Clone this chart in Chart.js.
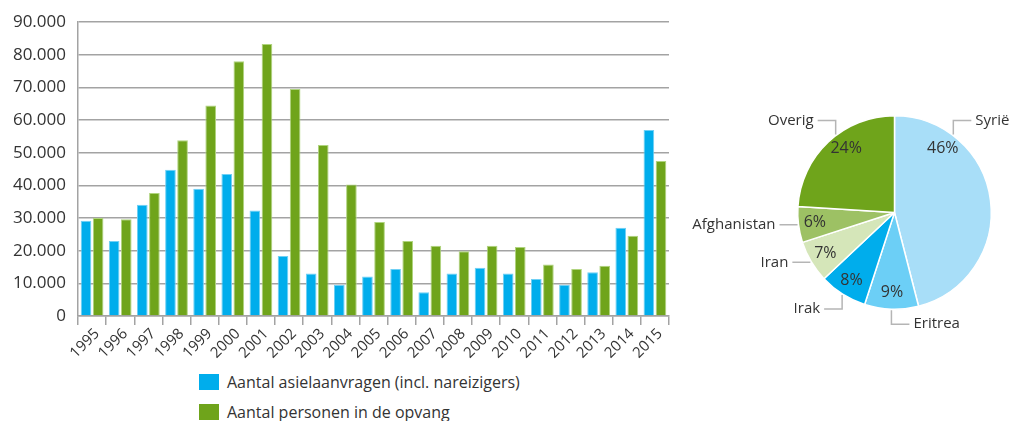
<!DOCTYPE html>
<html>
<head>
<meta charset="utf-8">
<script src="https://cdn.jsdelivr.net/npm/chart.js@4"></script>
<style>
  body { margin: 0; background: #fff; font-family: "Open Sans", sans-serif; color: #333; }
  #wrap { position: relative; width: 1017px; height: 421px; overflow: hidden; }
  #barBox { position: absolute; left: 0; top: 0; width: 690px; height: 365px; }
  #pieBox { position: absolute; left: 680px; top: 0; width: 337px; height: 421px; }
  #legend { position: absolute; left: 199px; top: 367px; font-size: 16px; }
  .item { display: flex; align-items: center; height: 30px; }
  .sw { width: 20px; height: 16px; margin-right: 8px; }
</style>
</head>
<body>
<div id="wrap">
  <div id="barBox"><canvas id="bars"></canvas></div>
  <div id="pieBox"><canvas id="pie"></canvas></div>
  <div id="legend"></div>
</div>
<script>
const years = ["1995","1996","1997","1998","1999","2000","2001","2002","2003","2004","2005",
  "2006","2007","2008","2009","2010","2011","2012","2013","2014","2015"];
const asylumRequests = [29200, 23000, 34100, 44800, 39000, 43500, 32300, 18400, 13000, 9600, 12100,
  14400, 7300, 13000, 14800, 13000, 11300, 9600, 13400, 27000, 57000];
const inReception = [30000, 29600, 37700, 53800, 64500, 78000, 83300, 69500, 52400, 40300, 28800,
  23000, 21500, 19800, 21500, 21100, 15800, 14400, 15400, 24600, 47500];
const seriesNames = ["Aantal asielaanvragen (incl. nareizigers)", "Aantal personen in de opvang"];

const countries = ["Syrië", "Eritrea", "Irak", "Iran", "Afghanistan", "Overig"];
const shares = [46, 9, 8, 7, 6, 24];

const BLUE = "#00adec";
const GREEN = "#6fa41b";
const GRID = "#a3a3a3";
const FONT = "'Open Sans', sans-serif";

const barChart = new Chart(document.getElementById("bars"), {
  type: "bar",
  data: {
    labels: years,
    datasets: [
      { label: seriesNames[0], data: asylumRequests, backgroundColor: BLUE, borderColor: "#6fd0f5", borderWidth: 1 },
      { label: seriesNames[1], data: inReception, backgroundColor: GREEN, borderColor: "#b0d47e", borderWidth: 1 },
    ],
  },
  options: {
    responsive: true,
    maintainAspectRatio: false,
    animation: false,
    layout: { padding: { top: 19, right: 21, left: 0, bottom: 0 } },
    plugins: { legend: { display: false }, tooltip: { enabled: false } },
    datasets: { bar: { categoryPercentage: 0.86, barPercentage: 0.88 } },
    scales: {
      x: {
        grid: { display: true, drawOnChartArea: false, offset: true, tickLength: 9, color: GRID, lineWidth: 1.5 },
        border: { color: GRID, width: 1.5 },
        ticks: { color: "#333", font: { family: FONT, size: 15 }, minRotation: 45, maxRotation: 45,
          autoSkip: false, padding: 0, labelOffset: 5 },
        afterFit: (s) => { s.height = 49; },
      },
      y: {
        min: 0,
        max: 90000,
        grid: { color: GRID, lineWidth: 1.5, drawTicks: false },
        border: { color: GRID, width: 1.5 },
        ticks: {
          stepSize: 10000,
          padding: 12,
          color: "#333",
          font: { family: FONT, size: 17 },
          callback: (v) => v === 0 ? "0" : (v / 1000) + ".000",
        },
        afterFit: (s) => { s.width = 78; },
      },
    },
  },
});

// legend under the bars, one row per series
const legendDiv = document.getElementById("legend");
barChart.data.datasets.forEach((ds) => {
  legendDiv.innerHTML += `<div class="item"><span class="sw" style="background:${ds.backgroundColor}"></span>${ds.label}</div>`;
});

// percent labels inside, names with elbow leader lines outside
const pieLabels = {
  id: "pieLabels",
  afterDraw(chart) {
    const ctx = chart.ctx;
    const arcs = chart.getDatasetMeta(0).data;
    ctx.save();
    arcs.forEach((arc, i) => {
      const { x: cx, y: cy, outerRadius: r, startAngle, endAngle } = arc;
      let a0 = startAngle + Math.PI / 2;
      let a1 = endAngle + Math.PI / 2;
      let a = (a0 + a1) / 2;
      const big = 60 * Math.PI / 180;
      const inset = 37 * Math.PI / 180;
      if (a1 - a0 > big) {
        a = (a0 < 2 * Math.PI - a1) ? a0 + inset : a1 - inset;
      }
      const sx = Math.sin(a), cy_ = Math.cos(a);
      // percentage
      ctx.fillStyle = "#333";
      ctx.font = "16px " + FONT;
      ctx.textAlign = "center";
      ctx.textBaseline = "middle";
      ctx.fillText(shares[i] + "%", cx + 0.83 * r * sx, cy - 0.83 * r * cy_);
      // leader line
      let px = cx + (r + 1) * sx;
      let py = cy - (r + 1) * cy_;
      ctx.strokeStyle = "#b5b5b5";
      ctx.lineWidth = 1.5;
      ctx.beginPath();
      ctx.moveTo(px, py);
      if (Math.abs(cy_) > 0.7) {
        py += cy_ > 0 ? -14 : 14;
        ctx.lineTo(px, py);
      }
      const dir = sx > -0.1 ? 1 : -1;
      px += dir * 18;
      ctx.lineTo(px, py);
      ctx.stroke();
      ctx.font = "15px " + FONT;
      ctx.textAlign = dir > 0 ? "left" : "right";
      ctx.fillText(countries[i], px + dir * 4, py);
    });
    ctx.restore();
  },
};

new Chart(document.getElementById("pie"), {
  type: "pie",
  data: {
    labels: countries,
    datasets: [{
      data: shares,
      backgroundColor: ["#a8def8", "#6ccff6", "#00adec", "#d5e6b9", "#9dc164", "#6fa41b"],
      borderColor: "#fff",
      borderWidth: 1.5,
    }],
  },
  options: {
    responsive: true,
    maintainAspectRatio: false,
    animation: false,
    layout: { padding: { left: 117, right: 25, top: 115, bottom: 111 } },
    plugins: { legend: { display: false }, tooltip: { enabled: false } },
  },
  plugins: [pieLabels],
});
</script>
</body>
</html>
